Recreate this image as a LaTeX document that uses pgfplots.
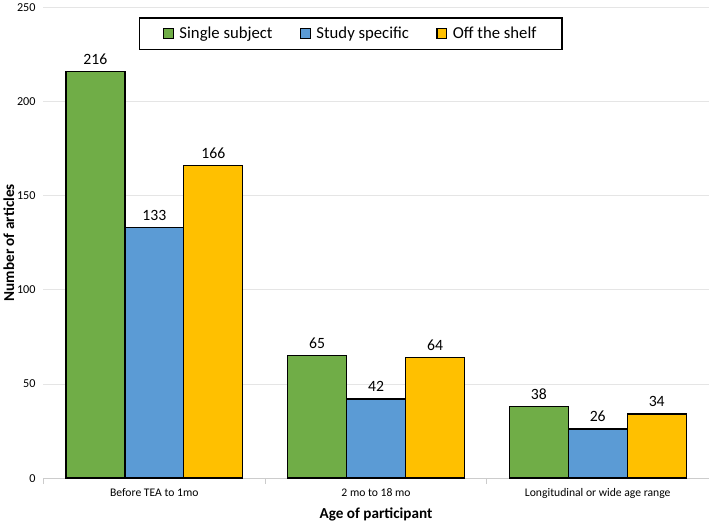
\documentclass[border=0pt]{standalone}
\usepackage{pgfplots}
\pgfplotsset{compat=1.18}
\usepackage{fontspec}
\setmainfont{Carlito}
\definecolor{cgreen}{HTML}{70AD47}
\definecolor{cblue}{HTML}{5B9BD5}
\definecolor{cgold}{HTML}{FFC000}
\begin{document}
\begin{tikzpicture}
\begin{axis}[
  scale only axis,
  width=657pt, height=465pt,
  ymin=0, ymax=250,
  ytick={0,50,...,250},
  xmin=-0.5, xmax=2.5,
  xtick={0,1,2},
  xticklabels={Before TEA to 1mo, 2 mo to 18 mo, Longitudinal or wide age range},
  minor xtick={-0.5,0.5,1.5},
  major x tick style={draw=none},
  minor x tick style={draw=gray!40, line width=0.8pt},
  minor tick length=6pt,
  tick align=outside,
  axis x line*=bottom,
  axis y line*=left,
  x axis line style={draw=gray!40, line width=0.8pt, -},
  y axis line style={draw=none},
  ytick style={draw=none},
  ymajorgrids,
  grid style={draw=gray!20, line width=0.8pt},
  xticklabel style={font=\fontsize{11.5}{13}\selectfont, yshift=-2pt},
  yticklabel style={font=\fontsize{12}{14}\selectfont},
  /pgf/number format/assume math mode=true,
  ylabel={\textbf{Number of articles}},
  xlabel={\textbf{Age of participant}},
  label style={font=\fontsize{15}{17}\selectfont},
  ylabel style={yshift=-4pt},
  xlabel style={yshift=-3pt},
  ybar=0pt,
  bar width=0.266,
  nodes near coords,
  nodes near coords style={font=\fontsize{15.5}{17}\selectfont, black, yshift=3pt},
  every axis plot/.append style={draw=black, line width=1.4pt},
  legend columns=3,
  legend style={at={(0.462,0.944)}, anchor=center, draw=black, line width=1.4pt,
    font=\fontsize{16.5}{19}\selectfont, inner xsep=23pt, inner ysep=7pt,
    /tikz/every even column/.append style={column sep=25pt}},
  legend image code/.code={\draw[#1, line width=1.2pt] (0pt,-4.5pt) rectangle (9.5pt,5pt); \path (13pt,0pt);},
]
\addplot[fill=cgreen, bar shift=-0.266] coordinates {(0,216) (1,65) (2,38)};
\addplot[fill=cblue, bar shift=0] coordinates {(0,133) (1,42) (2,26)};
\addplot[fill=cgold, bar shift=0.266] coordinates {(0,166) (1,64) (2,34)};
\legend{Single subject, Study specific, Off the shelf}
\end{axis}
\end{tikzpicture}
\end{document}
